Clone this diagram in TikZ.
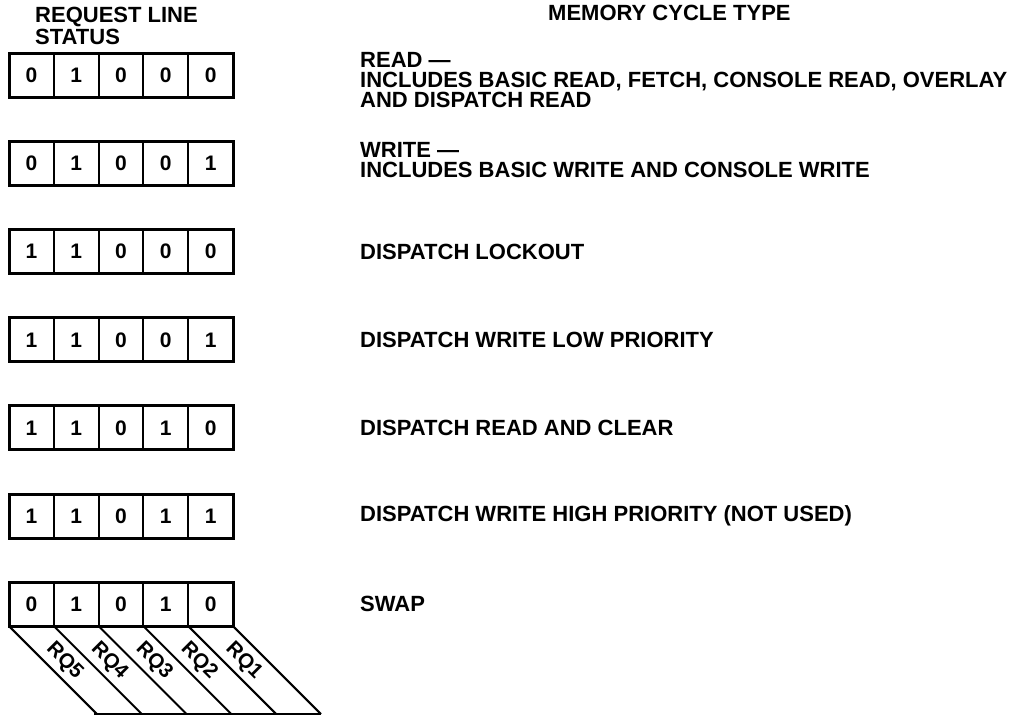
\documentclass[tikz,border=0pt]{standalone}
\usepackage{fontspec}
\setmainfont{Liberation Sans}
\usetikzlibrary{positioning}

\begin{document}
\begin{tikzpicture}[x=1pt, y=-1pt,
        bitcell/.style={rectangle, draw, line width=2pt, minimum width=44.8pt,
                        minimum height=44pt, inner sep=0pt, outer sep=0pt,
                        font=\fontsize{21}{21}\selectfont\bfseries},
        frame/.style={line width=3pt},
        head/.style={inner sep=0pt, anchor=base west,
                     font=\fontsize{22}{20}\selectfont\bfseries},
        cycletext/.style={inner sep=0pt, anchor=west, align=left,
                          font=\fontsize{22}{20}\selectfont\bfseries},
        lead/.style={line width=2pt},
        rqtext/.style={rotate=-45, inner sep=0pt,
                       font=\fontsize{20.5}{20}\selectfont\bfseries}]
    \useasboundingbox (0,0) rectangle (1026,717);
    % column headings
    \node[head] (hreq)  at (35,22.5) {REQUEST LINE};
    \node[head] (hstat) at (35,44.5) {STATUS};
    \node[head] (hcyc)  at (548,20.5) {MEMORY CYCLE TYPE};
    % request line boxes, one row per cycle type
    \foreach \bits [count=\r] in {{0,1,0,0,0},{0,1,0,0,1},{1,1,0,0,0},{1,1,0,0,1},
                                  {1,1,0,1,0},{1,1,0,1,1},{0,1,0,1,0}} {
        \foreach \b [count=\c] in \bits
            \node[bitcell] (c\r-\c) at ({9+44.8*\c-22.4},{75.5+88.1*(\r-1)}) {\b};
        \draw[frame] (c\r-1.north west) rectangle (c\r-5.south east);
    }
    % cycle descriptions
    \coordinate (tx) at (360,0);
    \node[cycletext] (t1) at (360,80.5) {READ ---\\INCLUDES BASIC READ, FETCH, CONSOLE READ, OVERLAY\\AND DISPATCH READ};
    \node[cycletext] (t2) at (360,160) {WRITE ---\\INCLUDES BASIC WRITE AND CONSOLE WRITE};
    \node[cycletext] (t3) at (tx |- c3-1) {DISPATCH LOCKOUT};
    \node[cycletext] (t4) at (tx |- c4-1) {DISPATCH WRITE LOW PRIORITY};
    \node[cycletext] (t5) at (tx |- c5-1) {DISPATCH READ AND CLEAR};
    \node[cycletext] (t6) at (tx |- c6-1) {DISPATCH WRITE HIGH PRIORITY (NOT USED)};
    \node[cycletext] (t7) at (tx |- c7-1) {SWAP};
    % request line leads under the last row
    \foreach \c in {1,...,5}
        \coordinate (e\c) at ([shift={(88,88)}]c7-\c.south west);
    \coordinate (e6) at ([shift={(88,88)}]c7-5.south east);
    \foreach \c in {1,...,5}
        \draw[lead] (c7-\c.south west) -- (e\c);
    \draw[lead] (c7-5.south east) -- (e6);
    \draw[lead] ([xshift=-3pt]e1) -- (e6);
    \foreach \c/\name in {1/RQ5,2/RQ4,3/RQ3,4/RQ2,5/RQ1}
        \node[rqtext] (rq\c) at ([shift={(33,35)}]c7-\c.south) {\name};
\end{tikzpicture}
\end{document}
